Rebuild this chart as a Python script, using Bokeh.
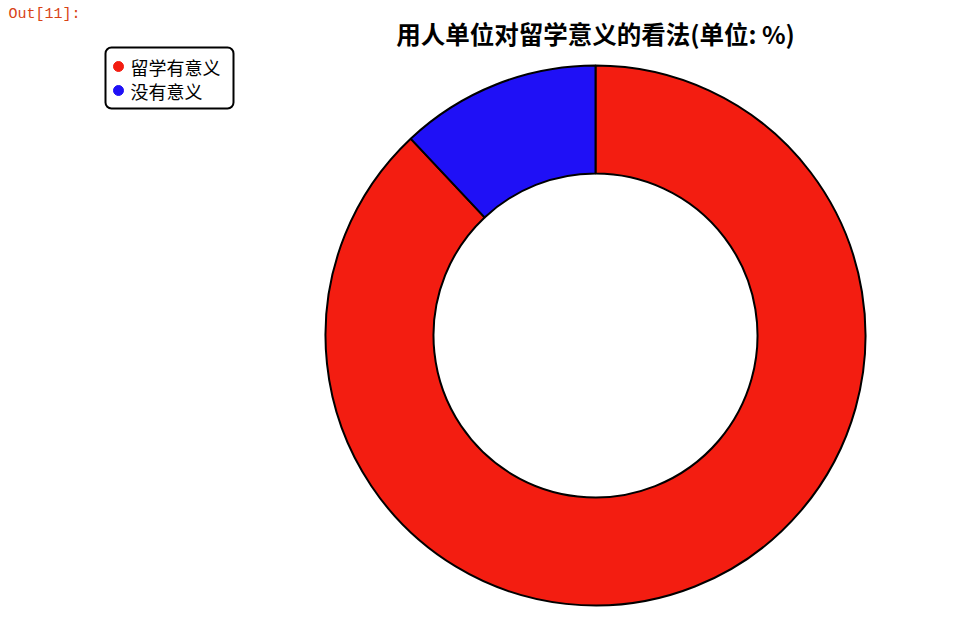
import numpy as np
from bokeh.plotting import figure
from bokeh.models import Range1d, ColumnDataSource
from bokeh.core.properties import value
from bokeh.embed import file_html
from bokeh.resources import INLINE

# data
categories = ['留学有意义', '没有意义']
percent = [88, 12]
colors = ['#f31d11', '#1f10f6']
title = '用人单位对留学意义的看法(单位: %)'

W, H = 954, 612
CJK = value("Noto Sans CJK SC")

# clockwise from 12 o'clock
frac = np.array(percent) / sum(percent)
cum = np.concatenate([[0], np.cumsum(frac)])
start = np.pi / 2 - 2 * np.pi * cum[:-1]
end = np.pi / 2 - 2 * np.pi * cum[1:]

src = ColumnDataSource(dict(cat=categories, pct=percent, color=colors,
                            start=start, end=end))

# data coords == window pixels (x right, y = 618 - pixel row)
p = figure(width=W, height=H, x_range=Range1d(0, W), y_range=Range1d(618 - H, 618),
           x_axis_type=None, y_axis_type=None, toolbar_location=None,
           output_backend="svg", min_border=0)
p.grid.visible = False
p.outline_line_color = None
p.background_fill_color = 'white'

cx, cy = 595, 618 - 335
p.annular_wedge(x=cx, y=cy, inner_radius=162, outer_radius=270,
                inner_radius_units='screen', outer_radius_units='screen',
                start_angle='start', end_angle='end', direction='clock',
                fill_color='color', line_color='black', line_width=2, source=src)

# title
p.text(x=[cx], y=[618 - 33], text=[title], text_align='center', text_baseline='middle',
       text_font=CJK, text_font_style='bold', text_font_size='24.5px', text_color='black')

# jupyter prompt
p.text(x=[8], y=[618 - 14], text=['Out[11]:'], text_align='left', text_baseline='middle',
       text_font=value("Liberation Mono"), text_font_size='15px', text_color='#d84315')

# legend box
p.quad(left=[105], right=[233], top=[618 - 47], bottom=[618 - 108],
       fill_color='white', line_color='black', line_width=2, border_radius=6)
ly = [618 - 66, 618 - 90]
p.scatter(x=[118] * len(categories), y=ly, size=10, marker='circle',
          fill_color=colors, line_color=colors)
p.text(x=[130] * len(categories), y=ly, text=categories, text_align='left',
       text_baseline='middle', text_font=CJK, text_font_size='18px', text_color='black')

open("out.html", "w").write(file_html(p, INLINE))
